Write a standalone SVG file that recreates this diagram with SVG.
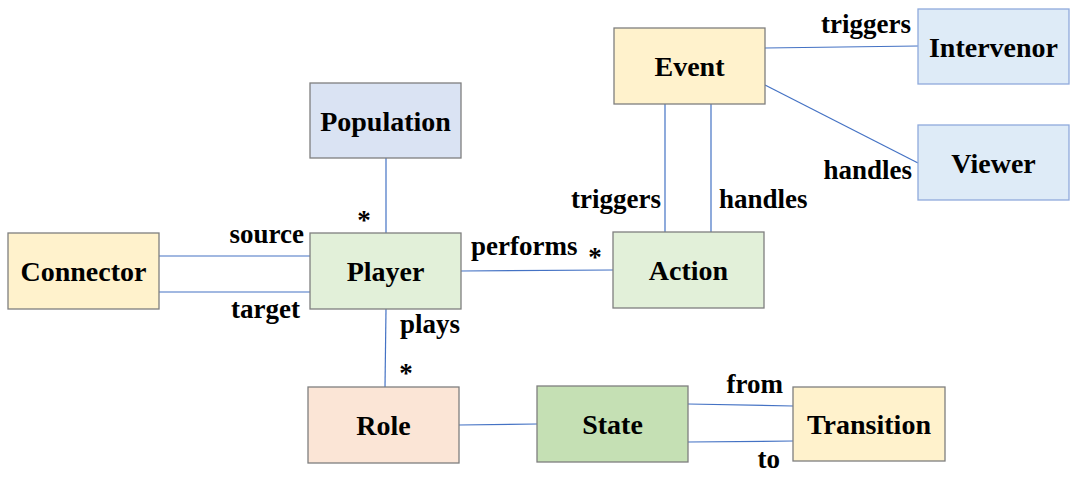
<svg xmlns="http://www.w3.org/2000/svg" width="1076" height="491" viewBox="0 0 1076 491">
<style>
.n{stroke:#7f7f7f;stroke-width:1.3}
.b{stroke:#8faadc;stroke-width:1.3}
.t{font-family:"Liberation Serif","Times New Roman",serif;font-weight:bold;font-size:28px;fill:#000;text-anchor:middle}
.l{font-family:"Liberation Serif","Times New Roman",serif;font-weight:bold;font-size:27px;fill:#000}
.c line{stroke:#4472c4;stroke-width:1.2}
</style>
<rect width="1076" height="491" fill="#fff"/>
<g class="c" id="connectors">
<line x1="159" y1="256" x2="310" y2="256"/>
<line x1="159" y1="292" x2="310" y2="292"/>
<line x1="386" y1="158" x2="386" y2="233"/>
<line x1="386" y1="309" x2="385" y2="387"/>
<line x1="461" y1="271" x2="613" y2="270"/>
<line x1="665" y1="104" x2="665" y2="232"/>
<line x1="711" y1="104" x2="711" y2="232"/>
<line x1="765" y1="48" x2="918" y2="46"/>
<line x1="765" y1="85" x2="918" y2="163"/>
<line x1="459" y1="425" x2="537" y2="424"/>
<line x1="688" y1="404" x2="793" y2="406"/>
<line x1="688" y1="442" x2="793" y2="441"/>
</g>
<g id="labels" class="l">
<text x="304" y="243" text-anchor="end">source</text>
<text x="300" y="318" text-anchor="end">target</text>
<text x="364" y="229" text-anchor="middle">*</text>
<text x="400" y="333">plays</text>
<text x="406" y="382" text-anchor="middle">*</text>
<text x="471" y="255">performs</text>
<text x="595" y="266" text-anchor="middle">*</text>
<text x="661" y="208" text-anchor="end">triggers</text>
<text x="719" y="208">handles</text>
<text x="911" y="33" text-anchor="end">triggers</text>
<text x="912" y="179" text-anchor="end">handles</text>
<text x="783" y="393" text-anchor="end">from</text>
<text x="780" y="468" text-anchor="end">to</text>
</g>
<g id="Connector"><rect class="n" x="8" y="233" width="151" height="76" fill="#fff2cc"/><text class="t" x="83.5" y="281">Connector</text></g>
<g id="Player"><rect class="n" x="310" y="233" width="151" height="76" fill="#e2f0d9"/><text class="t" x="385.5" y="281">Player</text></g>
<g id="Population"><rect class="n" x="310" y="83" width="151" height="75" fill="#dae3f3"/><text class="t" x="385.5" y="131">Population</text></g>
<g id="Role"><rect class="n" x="308" y="387" width="151" height="76" fill="#fbe5d6"/><text class="t" x="383.5" y="435">Role</text></g>
<g id="Action"><rect class="n" x="613" y="232" width="151" height="76" fill="#e2f0d9"/><text class="t" x="688.5" y="280">Action</text></g>
<g id="Event"><rect class="n" x="614" y="28" width="151" height="76" fill="#fff2cc"/><text class="t" x="689.5" y="76">Event</text></g>
<g id="Intervenor"><rect class="b" x="918" y="9" width="151" height="75" fill="#deebf7"/><text class="t" x="993.5" y="57">Intervenor</text></g>
<g id="Viewer"><rect class="b" x="918" y="125" width="151" height="75" fill="#deebf7"/><text class="t" x="993.5" y="173">Viewer</text></g>
<g id="State"><rect class="n" x="537" y="386" width="151" height="76" fill="#c5e0b4"/><text class="t" x="612.5" y="434">State</text></g>
<g id="Transition"><rect class="n" x="793" y="387" width="152" height="74" fill="#fff2cc"/><text class="t" x="869" y="434">Transition</text></g>
</svg>
